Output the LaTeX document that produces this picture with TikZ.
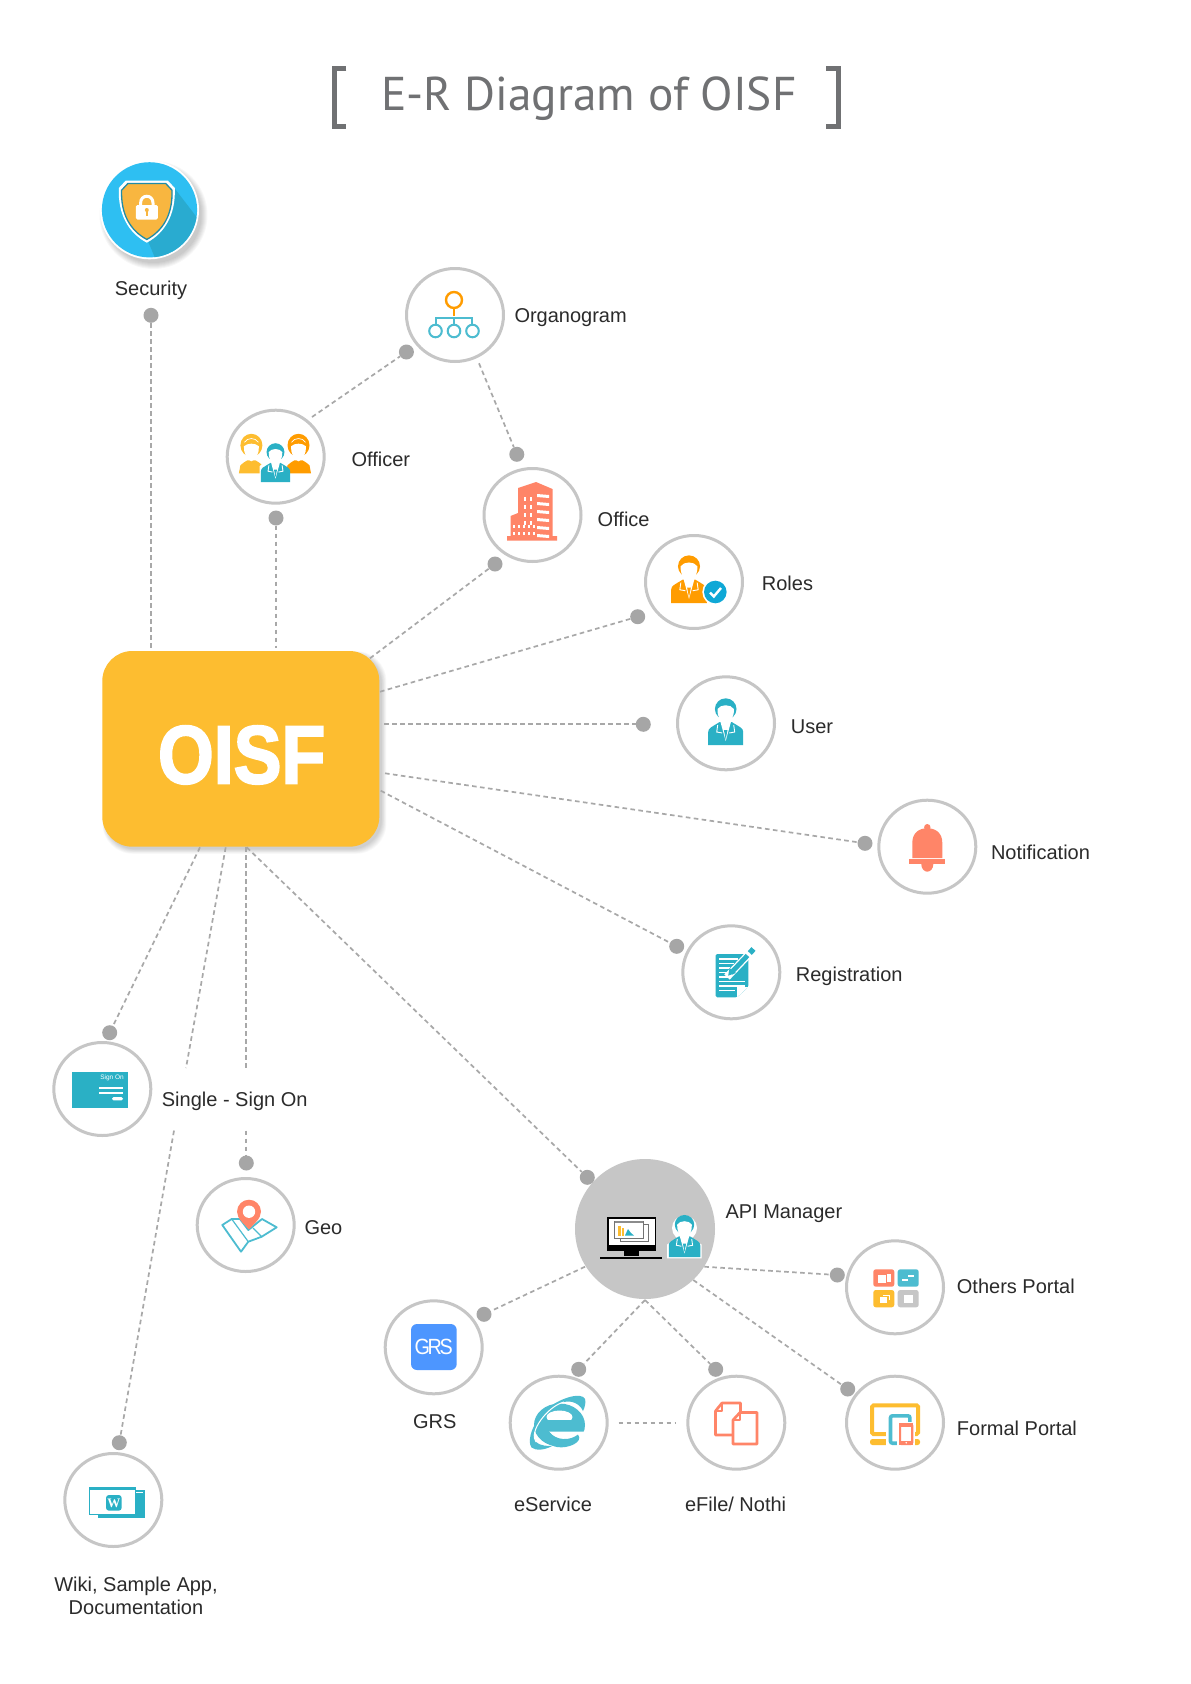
\documentclass[tikz,border=0pt]{standalone}
\usepackage{fontspec}
\setmainfont{Liberation Sans}
\newfontfamily\titlefont{PT Sans}
\newfontfamily\heavyfont[FakeBold=2.5]{Liberation Sans Bold}
\usetikzlibrary{calc,shapes.geometric}
\definecolor{ringc}{HTML}{C6C6C6}
\definecolor{dotc}{HTML}{A6A6A6}
\definecolor{linec}{HTML}{A8A8A8}
\definecolor{tealc}{HTML}{2AB0C5}
\definecolor{coralc}{HTML}{FF8568}
\definecolor{yellowc}{HTML}{FDBD30}
\definecolor{orangec}{HTML}{FF9C00}
\definecolor{iec}{HTML}{4DBCD0}
\definecolor{txtc}{HTML}{2B2B2B}
\definecolor{titlec}{HTML}{707173}
\definecolor{skyc}{HTML}{2EBFF2}
\definecolor{skydark}{HTML}{29ABD0}
\definecolor{shieldc}{HTML}{F8B640}
\definecolor{shieldline}{HTML}{1F8CA8}
\definecolor{grsc}{HTML}{4D96FF}
\definecolor{badgec}{HTML}{0FA8D6}
\tikzset{
  ringnode/.style={ellipse,draw=ringc,line width=3pt,fill=white,minimum width=97pt,minimum height=93pt,inner sep=0pt},
  dotnode/.style={circle,fill=dotc,minimum size=15pt,inner sep=0pt},
  conn/.style={draw=linec,line width=1.7pt,dash pattern=on 4.6pt off 3.4pt},
  lab/.style={text=txtc,font=\fontsize{20}{24}\selectfont,inner sep=0pt},
  labw/.style={lab,anchor=base west},
  labc/.style={lab,anchor=base},
}
% person: origin at bottom centre, 35 wide, 47 high
\newcommand{\personicon}[4]{%
\begin{scope}[shift={(#1,#2)},scale=#3]
\fill[#4] (-17.5,0) -- (-17.5,-13) .. controls (-17.5,-17) and (-14,-18) .. (-6,-23) -- (6,-23) .. controls (14,-18) and (17.5,-17) .. (17.5,-13) -- (17.5,0) -- cycle;
\fill[#4] (0,-36) ellipse [x radius=10.8,y radius=10.7];
\fill[white] (-8.2,-36) .. controls (-5,-41) and (5,-41) .. (8.2,-36) .. controls (8.6,-28) and (4.5,-21.5) .. (0,-20.5) .. controls (-4.5,-21.5) and (-8.6,-28) .. (-8.2,-36) -- cycle;
\fill[white] (-5.5,-24) -- (0,-4) -- (5.5,-24) -- cycle;
\fill[#4] (-1.8,-15) -- (1.8,-15) -- (0,-5.5) -- cycle;
\draw[white,line width=.9pt] (-8,-20) -- (-9,-13) -- (-3.5,-12);
\draw[white,line width=.9pt] (8,-20) -- (9,-13) -- (3.5,-12);
\end{scope}}
% woman: origin at bottom centre
\newcommand{\womanicon}[3]{%
\begin{scope}[shift={(#1,#2)}]
\fill[#3] (-12.5,0) -- (-11,-8) .. controls (-9,-11) and (-6,-11) .. (-4,-13) -- (4,-13) .. controls (6,-11) and (9,-11) .. (11,-8) -- (12.5,0) -- cycle;
\fill[#3] (0,-28) ellipse [x radius=11,y radius=11.5];
\draw[white,line width=.7pt] (-7,-31) .. controls (-4,-36) and (4,-36) .. (7,-31);
\fill[white] (-7.5,-27) .. controls (-4,-30.5) and (4,-30.5) .. (7.5,-27) .. controls (8,-20) and (4,-13) .. (0,-12) .. controls (-4,-13) and (-8,-20) .. (-7.5,-27) -- cycle;
\end{scope}}
\begin{document}
\begin{tikzpicture}[x=1pt,y=-1pt]
\useasboundingbox (0,0) rectangle (1191,1684);
\fill[white] (0,0) rectangle (1191,1684);
% title
\draw[titlec,line width=5pt,line cap=butt] (346.4,68.2) -- (334.3,68.2) -- (334.3,126.5) -- (346.4,126.5);
\draw[titlec,line width=5pt,line cap=butt] (826.2,68.2) -- (838.3,68.2) -- (838.3,126.5) -- (826.2,126.5);
\node[text=titlec,font=\titlefont\fontsize{47.4}{56}\selectfont,inner sep=0pt,anchor=base] (title) at (589,110.5) {E-R Diagram of OISF};

% main box with soft shadow
\foreach \i in {0,...,7}{
  \fill[black,opacity=.022,rounded corners=30pt] ($(102.3,651)+(3-\i*.4,3-\i*.4)$) rectangle ($(379.3,846.7)+(2.5+\i*.65,2.5+\i*.65)$);
}
\node[fill=yellowc,rounded corners=30pt,minimum width=277pt,minimum height=195.7pt,inner sep=0pt] (box) at (240.8,748.85) {};
\node[text=white,inner sep=0pt,anchor=base] (boxtext) at (241.65,783.3) {\heavyfont\fontsize{82.4}{90}\selectfont\scalebox{.87}[1]{OISF}};

% security badge
\foreach \i in {0,...,6}{
  \fill[black,opacity=.03] (153.5,215) circle (48+\i*1.0);
}
\node[circle,fill=white,minimum size=99pt,inner sep=0pt] (security) at (149.5,209.8) {};
\begin{scope}
\clip (149.5,209.8) circle (47.6);
\fill[skyc] (100,150) rectangle (200,260);
\fill[skydark] (172,185) -- (202,224) -- (202,262) -- (155,258) -- (148,241) -- cycle;
\end{scope}
\begin{scope}[shift={(146.8,210)}]
\fill[white] (-21,-29.5) -- (21,-29.5) -- (28,-22) .. controls (29,5) and (18,23) .. (0,32.7) .. controls (-18,23) and (-29,5) .. (-28,-22) -- cycle;
\begin{scope}[scale=.9]
\fill[shieldc,draw=shieldline,line width=1.3pt] (-21,-29.5) -- (21,-29.5) -- (28,-22) .. controls (29,5) and (18,23) .. (0,32.7) .. controls (-18,23) and (-29,5) .. (-28,-22) -- cycle;
\end{scope}
\draw[white,line width=3pt] (-6.2,-2) -- (-6.2,-7) .. controls (-6.2,-16) and (6.2,-16) .. (6.2,-7) -- (6.2,-2);
\fill[white,rounded corners=1.5pt] (-11,-5) rectangle (11,9.5);
\fill[shieldc] (0,0) circle (2);
\fill[shieldc] (-1,0) rectangle (1,6);
\end{scope}

% ring nodes
\node[ringnode] (organo) at (455,315) {};
\node[ringnode] (officer) at (275.7,456.7) {};
\node[ringnode] (office) at (532.5,515) {};
\node[ringnode] (roles) at (694,582) {};
\node[ringnode] (user) at (726,723.3) {};
\node[ringnode] (notif) at (927.3,846.7) {};
\node[ringnode] (regis) at (731.3,972.3) {};
\node[ringnode] (signon) at (102.3,1089) {};
\node[ringnode] (geo) at (245.7,1225) {};
\node[circle,fill=ringc,minimum size=140pt,inner sep=0pt] (api) at (645,1229) {};
\node[ringnode] (grs) at (433.7,1347.3) {};
\node[ringnode] (eserv) at (558.7,1422.7) {};
\node[ringnode] (efile) at (736.3,1422.7) {};
\node[ringnode] (others) at (895,1287.3) {};
\node[ringnode] (formal) at (895,1422.7) {};
\node[ringnode] (wiki) at (113.3,1500) {};

% dots
\node[dotnode] (dsec) at (151,315.3) {};
\node[dotnode] (dorg) at (406.4,352) {};
\node[dotnode] (doffT) at (516.8,454.3) {};
\node[dotnode] (doffr) at (276,518) {};
\node[dotnode] (doffB) at (495,564) {};
\node[dotnode] (drol) at (637.7,616.7) {};
\node[dotnode] (dusr) at (643.3,724.3) {};
\node[dotnode] (dnot) at (865,843.3) {};
\node[dotnode] (dreg) at (676.7,946.3) {};
\node[dotnode] (dsgn) at (109.7,1032.7) {};
\node[dotnode] (dgeo) at (246.3,1163) {};
\node[dotnode] (dapi) at (587.3,1177.3) {};
\node[dotnode] (dgrs) at (484,1314.3) {};
\node[dotnode] (dese) at (578.7,1369.3) {};
\node[dotnode] (defl) at (715.7,1369.3) {};
\node[dotnode] (doth) at (837.3,1275) {};
\node[dotnode] (dfor) at (847.7,1389) {};
\node[dotnode] (dwik) at (119.3,1442.7) {};

% free ends of the connectors
\coordinate (bOffice) at (370,658.3);
\coordinate (bRoles) at (380,691.7);
\coordinate (bUser) at (384,724.3);
\coordinate (bNotif) at (385,773.3);
\coordinate (bRegis) at (380.7,790.7);
\coordinate (bSign) at (200,847.3);
\coordinate (bWiki) at (225.7,847.3);
\coordinate (bGeo) at (246.3,847.3);
\coordinate (bApi) at (246.7,847.3);
\coordinate (wikiA) at (186,1068);
\coordinate (wikiB) at (174,1130.6);
\coordinate (geoA) at (246.3,1068);
\coordinate (geoB) at (246.3,1130.6);
\coordinate (rimOfficer) at (312,417);
\coordinate (rimOrgano) at (479,363.3);
\coordinate (rimGrs) at (585,1266.7);
\coordinate (rimMid) at (645,1300);
\coordinate (rimOthers) at (704.3,1266.7);
\coordinate (rimFormal) at (693.3,1280);

% connectors
\draw[conn] (dsec) -- (dsec |- 0,648);
\draw[conn] (doffr) -- (doffr |- 0,648);
\draw[conn] (rimOfficer) -- (dorg);
\draw[conn] (rimOrgano) -- (doffT);
\draw[conn] (bOffice) -- (doffB);
\draw[conn] (bRoles) -- (drol);
\draw[conn] (bUser) -- (dusr);
\draw[conn] (bNotif) -- (dnot);
\draw[conn] (bRegis) -- (dreg);
\draw[conn] (bSign) -- (dsgn);
\draw[conn] (bWiki) -- (wikiA);
\draw[conn] (wikiB) -- (dwik);
\draw[conn] (bGeo) -- (geoA);
\draw[conn] (geoB) -- (dgeo);
\draw[conn] (bApi) -- (dapi);
\draw[conn] (rimGrs) -- (dgrs);
\draw[conn] (rimMid) -- (dese);
\draw[conn] (rimMid) -- (defl);
\draw[conn] (rimOthers) -- (doth);
\draw[conn] (rimFormal) -- (dfor);
\draw[conn,shorten <=10pt,shorten >=10.5pt] (eserv) -- (efile);

% labels
\node[labc] (tsec) at (151,295) {Security};
\node[labw] (torg) at (514.3,322) {Organogram};
\node[labw] (toff) at (351.4,466.7) {Officer};
\node[labw] (tofc) at (597.5,526) {Office};
\node[labw] (trol) at (761.7,590.7) {Roles};
\node[labw] (tusr) at (790.7,733.3) {User};
\node[labw] (tnot) at (990.8,859) {Notification};
\node[labw] (treg) at (795.7,981) {Registration};
\node[labw] (tsgn) at (161.7,1106) {Single - Sign On};
\node[labw] (tgeo) at (304.3,1234) {Geo};
\node[labw] (tapi) at (725.3,1218.3) {API Manager};
\node[labc] (tgrs) at (434.7,1428.3) {GRS};
\node[labc] (tese) at (553,1511.6) {eService};
\node[labc] (tefl) at (735.6,1511.6) {eFile/ Nothi};
\node[labw] (toth) at (956.7,1293.3) {Others Portal};
\node[labw] (tfor) at (956.7,1435.7) {Formal Portal};
\node[lab,align=center,font=\fontsize{20}{23.6}\selectfont] (twik) at (136,1596) {Wiki, Sample App,\\Documentation};

% organogram icon
\draw[orangec,line width=2.4pt] (454,300) circle (8);
\draw[orangec,line width=2.4pt] (454,308) -- (454,316);
\draw[iec,line width=2pt] (436,324) -- (436,318) -- (472,318) -- (472,324);
\draw[iec,line width=2pt] (454,318) -- (454,324);
\foreach \xx in {435.5,454,472.5}{\draw[iec,line width=2pt] (\xx,331) circle (6.3);}

% officer icons
\womanicon{251.4}{473.3}{yellowc}
\womanicon{298.5}{473.3}{orangec}
\draw[white,line width=3pt] (261,482) -- (261,467) -- (268,461);
\personicon{275.5}{482}{.83}{tealc}

% office icon
\fill[coralc] (507,540.5) -- (507,536) -- (510.5,536) -- (510.5,516) -- (518,513) -- (518,488) -- (536,482) -- (552.5,489) -- (552.5,536) -- (557,536) -- (557,540.5) -- cycle;
\foreach \yy in {497,505,513,521}{\fill[white] (524,\yy) rectangle (526,\yy+3.5); \fill[white] (530,\yy) rectangle (532,\yy+3.5);}
\foreach \yy in {493,501,509,517,525,533}{\fill[white] (537,\yy+1) -- (549,\yy+2) -- (549,\yy+5) -- (537,\yy+4) -- cycle;}
\foreach \xx in {513,518,523,528,533}{\fill[white] (\xx,525) rectangle (\xx+2,528); \fill[white] (\xx,532) rectangle (\xx+2,535);}

% roles icon
\personicon{689}{603}{1.02}{orangec}
\fill[white] (715.3,592) circle (13);
\fill[badgec] (715.3,592) circle (11.3);
\draw[white,line width=2.4pt] (710,592.5) -- (713.8,596.5) -- (721,588);

% user icon
\personicon{725.7}{745}{1}{tealc}

% bell
\begin{scope}[shift={(927.3,846.7)}]
\fill[coralc] (0,-19.5) circle (3.2);
\fill[coralc] (-15,11.5) -- (-15,-4) .. controls (-15,-14) and (-8,-18.5) .. (0,-18.5) .. controls (8,-18.5) and (15,-14) .. (15,-4) -- (15,11.5) -- cycle;
\fill[coralc] (-18,12.5) rectangle (18,17.5);
\fill[coralc] (-6,17.5) -- (6,17.5) .. controls (6,22) and (3,25) .. (0,25) .. controls (-3,25) and (-6,22) .. (-6,17.5) -- cycle;
\end{scope}

% registration
\fill[tealc,rounded corners=1.5pt] (715.7,954) -- (748.3,954) -- (748.3,987) -- (737,997.3) -- (715.7,997.3) -- cycle;
\foreach \yy/\xa/\xb in {959/719/738,963.5/719/734,968/719/730,972.5/719/728,977/719/729,981.5/719/745,986/719/745,990.5/719/735}{\draw[white,line width=1.1pt] (\xa,\yy) -- (\xb,\yy);}
\fill[white] (748.3,987) -- (737,997.3) -- (737,987) -- cycle;
\draw[white,line width=7.5pt] (727,977) -- (752,951);
\draw[tealc,line width=4.8pt] (731,973) -- (747.5,955.5);
\fill[tealc] (728.2,975.6) -- (729.5,968) -- (736,973) -- cycle;
\draw[tealc,line width=5.5pt] (749.8,953) -- (753.5,949);

% sign on
\fill[tealc] (71.7,1071.7) rectangle (128.3,1107.7);
\node[text=white,font=\fontsize{6.5}{7}\selectfont,inner sep=0pt] (tsi) at (112,1078.3) {Sign On};
\fill[white] (99,1086.7) rectangle (123,1089.3);
\fill[white] (99,1091.7) rectangle (123,1094.3);
\fill[white,rounded corners=1.5pt] (112,1097) rectangle (123,1100.3);

% geo icon
\draw[iec,line width=1.8pt,line join=round] (222.3,1225) -- (231.7,1219) -- (240,1219) -- (248.3,1230) -- (262,1219) -- (276.7,1227.3) -- (261.7,1236.7) -- (248.3,1241.7) -- (241,1251.7) -- cycle;
\draw[iec,line width=1.2pt] (231.7,1219) -- (248.3,1241.7);
\draw[iec,line width=1.2pt] (253,1228) -- (261.7,1236.7);
\fill[coralc] (249,1229.5) .. controls (245,1224.5) and (237,1219) .. (237,1211.7) .. controls (237,1205) and (242.5,1199.7) .. (249,1199.7) .. controls (255.5,1199.7) and (261,1205) .. (261,1211.7) .. controls (261,1219) and (253,1224.5) .. (249,1229.5) -- cycle;
\fill[white] (249,1211.7) circle (6.2);

% API icon
\fill[black] (607.3,1217.3) rectangle (655.7,1250.7);
\fill[white] (608.5,1218.5) rectangle (654.5,1245);
\fill[black] (624,1250.7) rectangle (639.3,1256);
\fill[black] (600,1257.3) rectangle (661.7,1258.7);
\draw[black!55,line width=.5pt,fill=white] (620,1224) rectangle (648,1241);
\draw[black!55,line width=.5pt,fill=white] (614.5,1221) rectangle (643,1238.5);
\fill[black!45] (614.5,1221) rectangle (643,1222.5);
\fill[yellowc] (618,1226) rectangle (620.5,1235.5);
\fill[yellowc] (622,1228) rectangle (624,1235.5);
\fill[tealc] (625,1235.5) -- (628,1229) -- (631,1233) -- (634,1235.5) -- cycle;
\draw[white,line width=1.4pt,fill=white] (667.7,1257.7) -- (667.7,1245) -- (678,1238) -- (690,1238) -- (701,1245) -- (701,1257.7) -- cycle;
\fill[white] (684.5,1228) circle (12.5);
\personicon{684.5}{1257}{.9}{tealc}

% GRS icon
\fill[grsc,rounded corners=6pt] (411,1324) rectangle (456.7,1370);
\node[text=white,font=\fontsize{22}{24}\selectfont,inner sep=0pt] (tg) at (433.7,1346.7) {\scalebox{.9}[1]{G\kern-2.5pt R\kern-2.5pt S}};

% IE icon
\fill[iec] (559.5,1425) ellipse [x radius=25.5,y radius=21.5];
\fill[white] (559.5,1417) ellipse [x radius=13,y radius=6.5];
\fill[iec] (546,1420) rectangle (573,1424);
\fill[white] (549,1431.5) -- (590,1431.5) -- (590,1437) .. controls (575,1444) and (556,1442) .. (549,1431.5) -- cycle;
\fill[iec] (549,1431.5) .. controls (556,1441) and (570,1441) .. (578,1434.5) .. controls (584,1442) and (568,1449) .. (557,1447) .. controls (548,1445) and (542,1440) .. (544,1431.5) -- cycle;
\fill[iec] (531.5,1447.5) .. controls (526,1440) and (534,1420) .. (548,1408) .. controls (562,1397) and (582,1392) .. (585,1399) .. controls (586,1402) and (585,1407) .. (583,1411) .. controls (580,1404) and (572,1400) .. (564,1402) .. controls (548,1406) and (528,1432) .. (536,1442) .. controls (540,1446) and (548,1446) .. (552,1446) .. controls (545,1450) and (536,1451) .. (531.5,1447.5) -- cycle;
\draw[white,line width=1pt] (536,1442) .. controls (528,1432) and (548,1406) .. (564,1402);

% eFile icon
\draw[coralc,line width=2.7pt,line join=round,fill=white] (722,1403) -- (740.5,1403) -- (740.5,1435) -- (715.5,1435) -- (715.5,1411) -- cycle;
\draw[coralc,line width=2.7pt,line join=round] (722,1403) -- (722,1411) -- (715.5,1411);
\draw[coralc,line width=2.7pt,line join=round,fill=white] (740,1412.5) -- (757,1412.5) -- (757,1444) -- (733,1444) -- (733,1420) -- cycle;
\draw[coralc,line width=2.7pt,line join=round] (740,1412.5) -- (740,1420) -- (733,1420);

% others portal icon
\fill[coralc,rounded corners=2.5pt] (873.3,1269.3) rectangle (894.3,1286.7);
\fill[iec,rounded corners=2.5pt] (897.7,1269.3) rectangle (918.7,1286.7);
\fill[yellowc,rounded corners=2.5pt] (873.3,1290) rectangle (894.3,1307.3);
\fill[ringc,rounded corners=2.5pt] (897.7,1290) rectangle (918.7,1307.3);
\fill[white] (877.5,1275) rectangle (886,1283);
\fill[white] (887,1274) rectangle (891,1281.5);
\fill[white] (908,1275) rectangle (914,1277);
\fill[white] (902,1279) rectangle (908,1281);
\fill[white] (880,1297) rectangle (887,1303);
\draw[white,line width=.8pt] (883,1295.3) -- (889,1295.3) -- (889,1300);
\fill[white] (904,1294.5) rectangle (912.5,1302.5);

% formal portal icon
\draw[yellowc,line width=4pt,rounded corners=1.5pt] (872,1405.3) rectangle (918,1434);
\fill[yellowc,rounded corners=2.5pt] (870,1439) rectangle (920,1445);
\fill[white] (886,1412) rectangle (914,1447);
\draw[iec,line width=3.6pt,rounded corners=2pt,fill=white] (890.5,1415.8) rectangle (909.9,1443.2);
\fill[white] (897,1421.5) rectangle (915,1447);
\draw[coralc,line width=2.2pt,rounded corners=1.5pt,fill=white] (900.1,1424.4) rectangle (912.2,1443.9);
\fill[coralc] (899,1423.3) rectangle (913.3,1427);
\fill[coralc] (899,1440.5) rectangle (913.3,1445);
\fill[white] (906.2,1442.7) circle (.9);

% wiki icon
\fill[tealc] (98.3,1490) rectangle (145,1518.3);
\fill[white] (136,1492) rectangle (143,1493);
\draw[tealc,line width=1pt,fill=white] (89.8,1487.2) rectangle (135.5,1514.5);
\fill[tealc] (89.3,1486.7) rectangle (136,1489.7);
\fill[tealc,rounded corners=3pt] (106,1495) rectangle (121.7,1510.7);
\node[text=white,inner sep=0pt,font=\fontsize{13}{14}\selectfont\bfseries] (tw) at (113.8,1503) {\fontspec{Liberation Serif}W};
\end{tikzpicture}
\end{document}
